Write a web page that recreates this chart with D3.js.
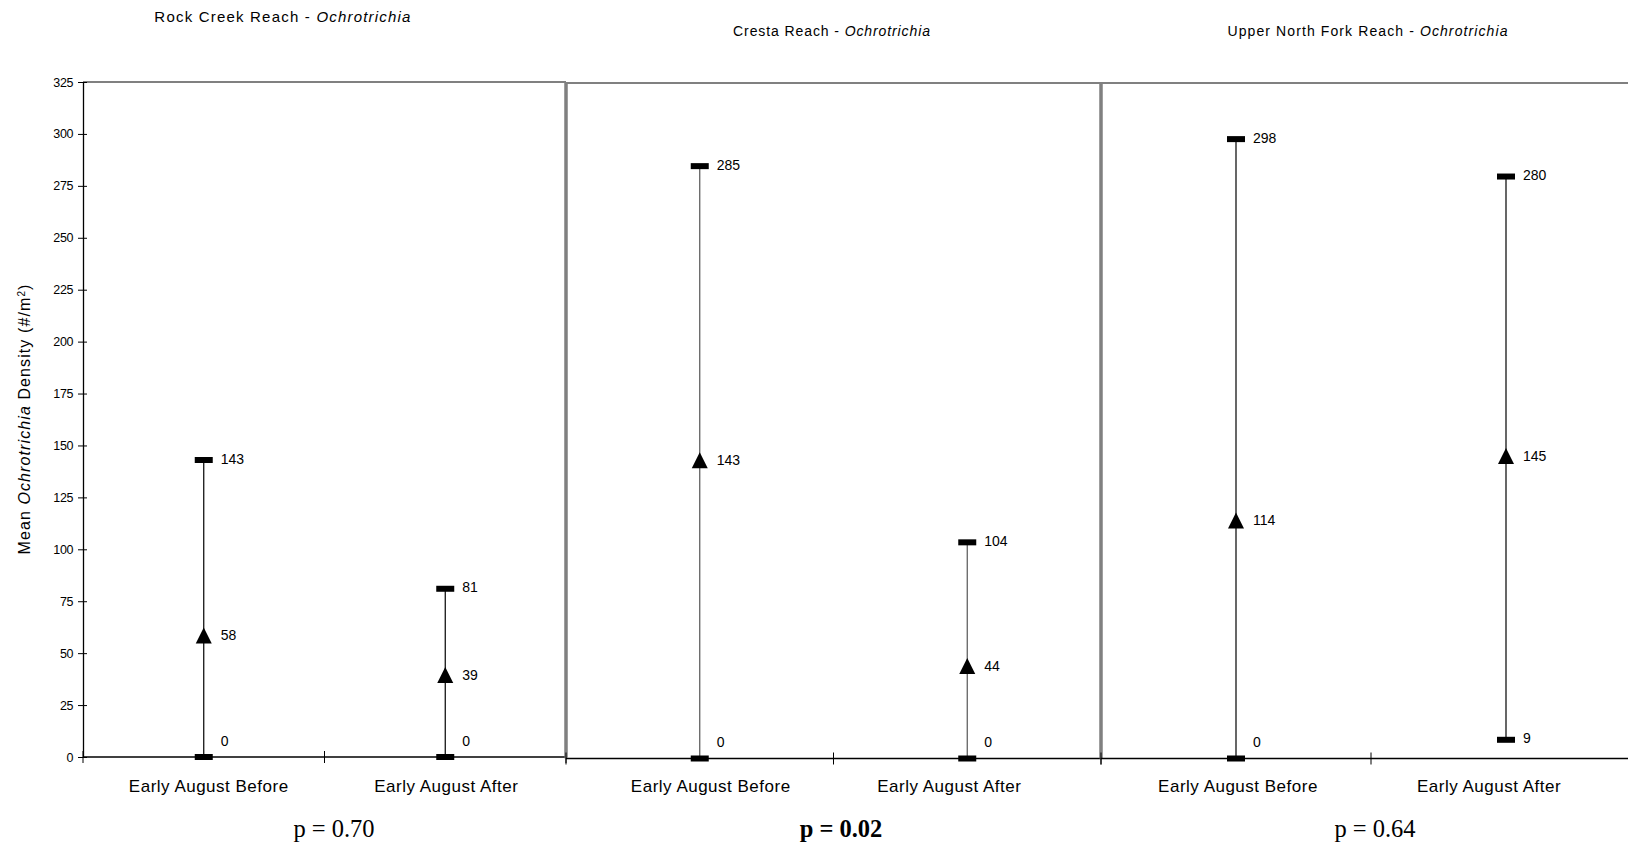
<!DOCTYPE html>
<html><head><meta charset="utf-8">
<script src="https://cdn.jsdelivr.net/npm/d3@7"></script>
<style>body{margin:0;background:#fff;} svg{display:block;}</style>
</head><body>
<script>
const reaches = ["Rock Creek Reach", "Cresta Reach", "Upper North Fork Reach"];
const categories = ["Early August Before", "Early August After"];
const highs = [[143, 81], [285, 104], [298, 280]];
const means = [[58, 39], [143, 44], [114, 145]];
const lows  = [[0, 0], [0, 0], [0, 9]];
const pValues = ["p = 0.70", "p = 0.02", "p = 0.64"];
const pBold = [false, true, false];
const yTicks = [0,25,50,75,100,125,150,175,200,225,250,275,300,325];

const W = 1628, H = 842;
const svg = d3.select("body").append("svg").attr("width", W).attr("height", H);
const sans = "'Liberation Sans', Arial, sans-serif";

const panels = [
  {x0: 83, x1: 566, yTop: 82, yBot: 757, titleX: 283, titleY: 22, titleSize: 15, spacing: 1.2, labelShift: [5, 1], pX: 334},
  {x0: 566, x1: 1101, yTop: 83, yBot: 758.5, titleX: 832, titleY: 36, titleSize: 14, spacing: 0.9, labelShift: [11, -18], pX: 841},
  {x0: 1101, x1: 1641, yTop: 83, yBot: 758.5, titleX: 1368, titleY: 36, titleSize: 14, spacing: 1.1, labelShift: [2, -17], pX: 1375}
];

panels.forEach((p, i) => {
  const x = d3.scaleBand().domain(categories).range([p.x0, p.x1]);
  const y = d3.scaleLinear().domain([0, 325]).range([p.yBot, p.yTop]);
  const g = svg.append("g");

  // plot area border (gray)
  g.append("line").attr("x1", p.x0).attr("x2", p.x1).attr("y1", p.yTop).attr("y2", p.yTop)
    .attr("stroke", "#808080").attr("stroke-width", 2);
  g.append("line").attr("x1", p.x1).attr("x2", p.x1).attr("y1", p.yTop).attr("y2", p.yBot)
    .attr("stroke", "#808080").attr("stroke-width", 3);
  if (i > 0) {
    g.append("line").attr("x1", p.x0).attr("x2", p.x0).attr("y1", p.yTop).attr("y2", p.yBot)
      .attr("stroke", "#808080").attr("stroke-width", 3);
  }

  // x axis
  const xAxis = g.append("g").attr("transform", `translate(0,${p.yBot})`);
  xAxis.append("line").attr("x1", p.x0).attr("x2", p.x1).attr("stroke", "#000").attr("stroke-width", 1.3);
  [p.x0, x(categories[1]), p.x1].forEach(tx => {
    xAxis.append("line").attr("x1", tx).attr("x2", tx).attr("y1", -6).attr("y2", 6)
      .attr("stroke", "#000").attr("stroke-width", 1);
  });
  categories.forEach((c, j) => {
    svg.append("text").attr("x", x(c) + x.bandwidth()/2 + p.labelShift[j]).attr("y", 792)
      .attr("text-anchor", "middle").attr("font-family", sans).attr("font-size", 17)
      .attr("letter-spacing", 0.5).attr("fill", "#000").text(c);
  });

  // y axis only on first panel
  if (i === 0) {
    const ya = d3.axisLeft(y).tickValues(yTicks).tickSize(6).tickSizeOuter(0);
    const yg = g.append("g").attr("transform", `translate(${p.x0},0)`).call(ya);
    yg.select(".domain").attr("stroke", "#000").attr("stroke-width", 1.3);
    yg.selectAll(".tick line").attr("x2", 4).attr("x1", -5);
    yg.selectAll(".tick text").attr("font-family", sans).attr("font-size", 12.5)
      .attr("letter-spacing", -0.4).attr("x", -10).attr("fill", "#000");
  }

  // title
  const t = svg.append("text").attr("x", p.titleX).attr("y", p.titleY)
    .attr("text-anchor", "middle").attr("font-family", sans).attr("font-size", p.titleSize)
    .attr("letter-spacing", p.spacing).attr("fill", "#000");
  t.append("tspan").text(reaches[i] + " - ");
  t.append("tspan").attr("font-style", "italic").text("Ochrotrichia");

  // p-value
  svg.append("text").attr("x", p.pX).attr("y", 837)
    .attr("text-anchor", "middle").attr("font-family", "'Liberation Serif', 'Times New Roman', serif")
    .attr("font-size", 24.5).attr("font-weight", pBold[i] ? "bold" : "normal").attr("fill", "#000")
    .text(pValues[i]);

  // high-low-mean marks
  categories.forEach((c, j) => {
    const cx = x(c) + x.bandwidth()/2;
    const hi = highs[i][j], mn = means[i][j], lo = lows[i][j];
    g.append("line").attr("x1", cx).attr("x2", cx).attr("y1", y(hi)).attr("y2", y(lo))
      .attr("stroke", i === 1 ? "#555" : "#000").attr("stroke-width", 1.2);
    [hi, lo].forEach(v => {
      g.append("rect").attr("x", cx - 9).attr("y", y(v) - 3).attr("width", 18).attr("height", 6).attr("fill", "#000");
    });
    g.append("path").attr("d", `M${cx},${y(mn)-9} L${cx+8},${y(mn)+7} L${cx-8},${y(mn)+7} Z`).attr("fill", "#000");
    const lbl = (v, dy) => g.append("text").attr("x", cx + 17).attr("y", dy)
      .attr("dominant-baseline", "middle").attr("font-family", sans).attr("font-size", 14)
      .attr("fill", "#000").text(v);
    lbl(hi, y(hi));
    lbl(mn, y(mn));
    lbl(lo, Math.min(y(lo), p.yBot - 15));
  });
});

// y axis label
const yl = svg.append("text").attr("transform", "translate(30,419) rotate(-90)")
  .attr("text-anchor", "middle").attr("font-family", sans).attr("font-size", 16).attr("letter-spacing", 1.1).attr("fill", "#000");
yl.append("tspan").text("Mean ");
yl.append("tspan").attr("font-style", "italic").text("Ochrotrichia");
yl.append("tspan").text(" Density (#/m");
yl.append("tspan").attr("baseline-shift", "super").attr("font-size", 10).text("2");
yl.append("tspan").text(")");
</script>
</body></html>
